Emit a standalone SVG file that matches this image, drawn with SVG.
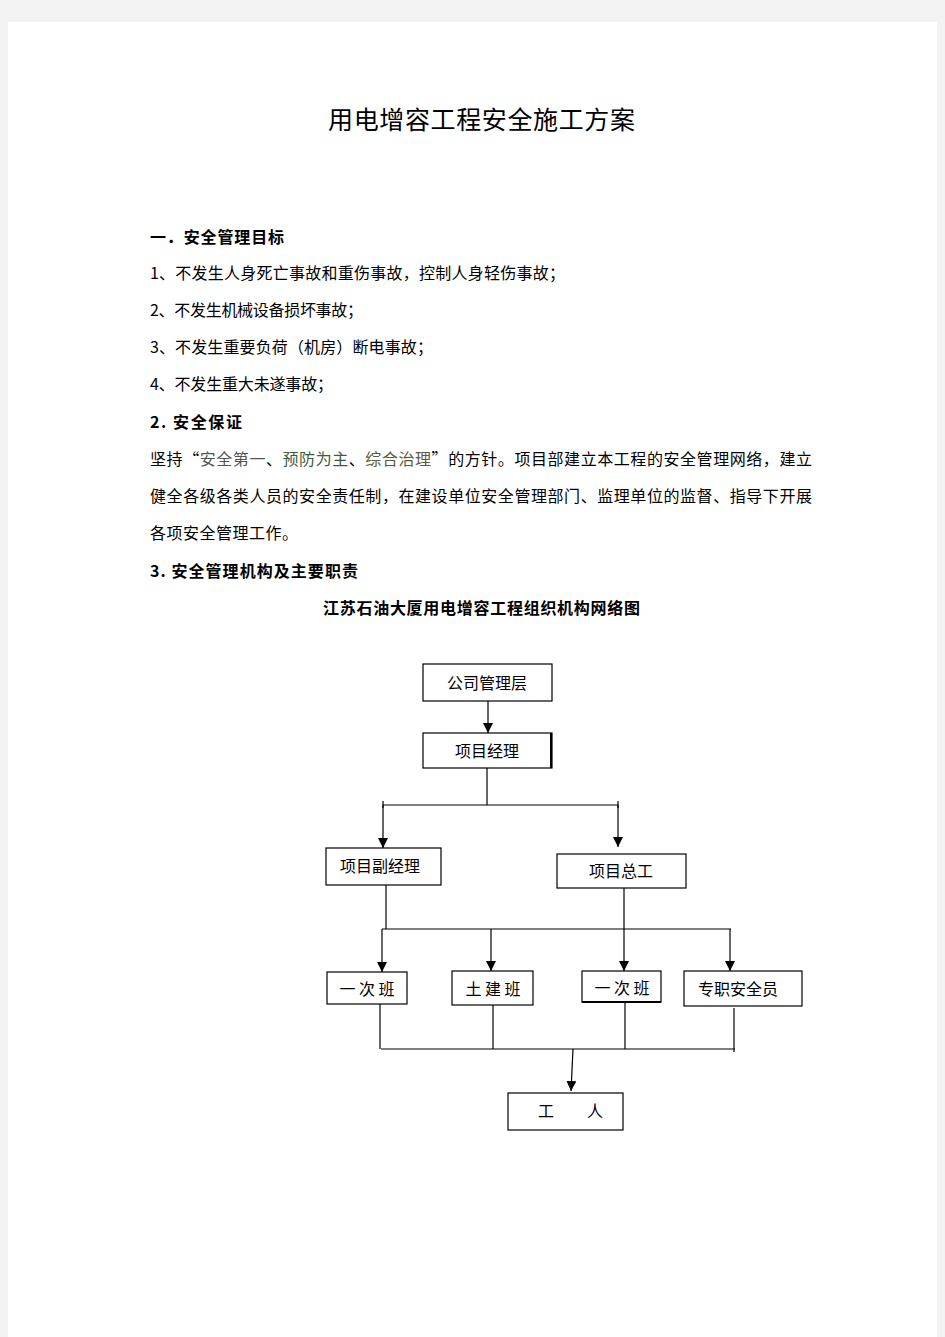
<svg xmlns="http://www.w3.org/2000/svg" width="945" height="1337" viewBox="0 0 945 1337">
<style>
.t{font-family:"Noto Sans CJK SC","Noto Sans",sans-serif;font-size:16px;fill:#000}
.b{font-weight:bold}
.title{font-family:"Noto Sans CJK SC",sans-serif;font-size:25px;fill:#000}
.box{fill:#fff;stroke:#000;stroke-width:1.2}
.ln{stroke:#000;stroke-width:1.2;fill:none}
.lab{font-family:"Noto Sans CJK SC","Noto Sans",sans-serif;font-size:16px;fill:#000;text-anchor:middle}
</style>
<defs>
<marker id="ah" viewBox="0 0 10 10" refX="10" refY="5" markerWidth="10" markerHeight="10" markerUnits="userSpaceOnUse" orient="auto">
<path d="M0,0 L10,5 L0,10 Z" fill="#000"/>
</marker>
</defs>
<rect x="0" y="0" width="945" height="1337" fill="#f3f3f3"/>
<rect x="8" y="22" width="929" height="1315" fill="#fff"/>

<text class="title" x="328" y="129" textLength="307" lengthAdjust="spacing">用电增容工程安全施工方案</text>

<text class="t b" x="150" y="243" textLength="134" lengthAdjust="spacing">一．安全管理目标</text>
<text class="t" x="150" y="279" textLength="415" lengthAdjust="spacing">1、不发生人身死亡事故和重伤事故，控制人身轻伤事故；</text>
<text class="t" x="150" y="316" textLength="213" lengthAdjust="spacing">2、不发生机械设备损坏事故；</text>
<text class="t" x="150" y="353" textLength="283" lengthAdjust="spacing">3、不发生重要负荷（机房）断电事故；</text>
<text class="t" x="150" y="390" textLength="183" lengthAdjust="spacing">4、不发生重大未遂事故；</text>
<text class="t b" x="150" y="428" textLength="92" lengthAdjust="spacing">2. 安全保证</text>
<text class="t" x="150" y="465" textLength="662" lengthAdjust="spacing">坚持“<tspan fill="#555">安全第一</tspan>、<tspan fill="#3f5a3f">预防为主</tspan>、<tspan fill="#5a5a35">综合治理</tspan>”的方针。项目部建立本工程的安全管理网络，建立</text>
<text class="t" x="150" y="502" textLength="662" lengthAdjust="spacing">健全各级各类人员的安全责任制，在建设单位安全管理部门、监理单位的监督、指导下开展</text>
<text class="t" x="150" y="539" textLength="148" lengthAdjust="spacing">各项安全管理工作。</text>
<text class="t b" x="150" y="577" textLength="208" lengthAdjust="spacing">3. 安全管理机构及主要职责</text>
<text class="t b" x="323" y="614" textLength="317" lengthAdjust="spacing">江苏石油大厦用电增容工程组织机构网络图</text>

<g id="connectors">
<line class="ln" x1="488" y1="701" x2="488" y2="733" marker-end="url(#ah)"/>
<line class="ln" x1="487" y1="768" x2="487" y2="805"/>
<line class="ln" x1="383" y1="805" x2="618" y2="805"/>
<line class="ln" x1="383" y1="801" x2="383" y2="808"/>
<line class="ln" x1="618" y1="801" x2="618" y2="808"/>
<line class="ln" x1="383" y1="805" x2="383" y2="848" marker-end="url(#ah)"/>
<line class="ln" x1="618" y1="805" x2="618" y2="847" marker-end="url(#ah)"/>
<line class="ln" x1="386" y1="885" x2="386" y2="929"/>
<line class="ln" x1="624" y1="888" x2="624" y2="929"/>
<line class="ln" x1="382" y1="929" x2="731" y2="929"/>
<line class="ln" x1="382" y1="929" x2="382" y2="972" marker-end="url(#ah)"/>
<line class="ln" x1="491" y1="929" x2="491" y2="971" marker-end="url(#ah)"/>
<line class="ln" x1="624" y1="929" x2="624" y2="971" marker-end="url(#ah)"/>
<line class="ln" x1="730" y1="929" x2="730" y2="971" marker-end="url(#ah)"/>
<line class="ln" x1="380" y1="1004" x2="380" y2="1049"/>
<line class="ln" x1="493" y1="1005" x2="493" y2="1049"/>
<line class="ln" x1="625" y1="1002" x2="625" y2="1049"/>
<line class="ln" x1="734" y1="1008" x2="734" y2="1052"/>
<line class="ln" x1="381" y1="1049" x2="735" y2="1049"/>
<line class="ln" x1="573" y1="1049" x2="571" y2="1091" marker-end="url(#ah)"/>
</g>

<g id="n-company"><rect class="box" x="423" y="664" width="129" height="37"/><text class="lab" x="487" y="689">公司管理层</text></g>
<g id="n-pm"><rect class="box" x="423" y="733" width="129" height="35"/><line x1="551" y1="733" x2="551" y2="768" stroke="#000" stroke-width="2"/><text class="lab" x="487" y="757">项目经理</text></g>
<g id="n-dpm"><rect class="box" x="326" y="848" width="115" height="37"/><text class="lab" x="380" y="872">项目副经理</text></g>
<g id="n-ce"><rect class="box" x="557" y="854" width="129" height="34"/><text class="lab" x="621" y="877">项目总工</text></g>
<g id="n-team1"><rect class="box" x="327" y="972" width="80" height="32"/><text class="lab" x="367" y="995" xml:space="preserve">一 次 班</text></g>
<g id="n-civil"><rect class="box" x="452" y="971" width="81" height="34"/><text class="lab" x="493" y="995" xml:space="preserve">土 建 班</text></g>
<g id="n-team2"><rect class="box" x="582" y="971" width="79" height="31"/><line x1="582" y1="1002" x2="661" y2="1002" stroke="#000" stroke-width="2"/><text class="lab" x="622" y="994" xml:space="preserve">一 次 班</text></g>
<g id="n-safety"><rect class="box" x="684" y="971" width="118" height="35"/><text class="lab" x="738" y="995">专职安全员</text></g>
<g id="n-workers"><rect class="box" x="508" y="1093" width="115" height="37"/><text class="lab" x="546" y="1117">工</text><text class="lab" x="595" y="1117">人</text></g>
</svg>
